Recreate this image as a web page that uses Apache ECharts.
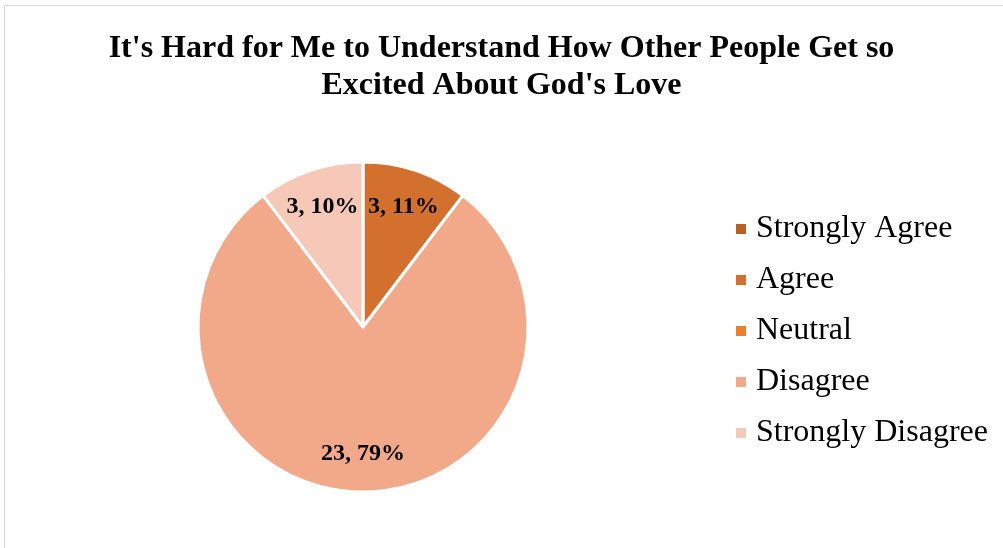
<!DOCTYPE html>
<html>
<head>
<meta charset="utf-8">
<script src="https://cdn.jsdelivr.net/npm/echarts@6/dist/echarts.min.js"></script>
<style>
html,body{margin:0;padding:0;background:#fff;}
#chart{width:1003px;height:548px;}
</style>
</head>
<body>
<div id="chart"></div>
<script>
var titleText = "It's Hard for Me to Understand How Other People Get so\nExcited About God's Love";
var categories = ["Strongly Agree", "Agree", "Neutral", "Disagree", "Strongly Disagree"];
var counts = [0, 3, 0, 23, 3];
var percentLabels = [0, 11, 0, 79, 10];
var colors = ["#B4612A", "#D4702E", "#ED7D31", "#F1A98A", "#F5C8B8"];

var chart = echarts.init(document.getElementById('chart'), null, {renderer: 'canvas'});

var mainData = categories.map(function (c, i) {
  return {name: c, value: counts[i], itemStyle: {color: colors[i]}};
});
var labelData = categories.map(function (c, i) {
  return {name: c, value: counts[i], pct: percentLabels[i]};
});

chart.setOption({
  backgroundColor: '#ffffff',
  animation: false,
  title: {
    text: titleText,
    left: 'center',
    top: 25,
    textStyle: {
      fontFamily: 'Liberation Serif',
      fontWeight: 'bold',
      fontSize: 32,
      lineHeight: 37,
      color: '#000'
    }
  },
  legend: {
    orient: 'vertical',
    left: 734,
    top: 213,
    padding: 0,
    itemWidth: 12,
    itemHeight: 12,
    itemGap: 19,
    icon: 'rect',
    data: categories,
    selectedMode: false,
    textStyle: {
      fontFamily: 'Liberation Serif',
      fontSize: 32,
      lineHeight: 32,
      color: '#000',
      padding: [0, 0, 0, 4]
    }
  },
  graphic: [{
    type: 'rect',
    shape: {x: 4.5, y: 5.5, width: 1200, height: 800},
    style: {fill: 'none', stroke: '#D9D9D9', lineWidth: 1},
    silent: true,
    z: -1
  }],
  series: [{
    type: 'pie',
    center: [363, 327],
    radius: [0, 165],
    startAngle: 90,
    clockwise: true,
    avoidLabelOverlap: false,
    label: {show: false},
    labelLine: {show: false},
    itemStyle: {borderColor: '#ffffff', borderWidth: 3},
    emphasis: {disabled: true},
    data: mainData
  }, {
    type: 'pie',
    center: [363, 327],
    radius: [82, 165],
    startAngle: 90,
    clockwise: true,
    silent: true,
    avoidLabelOverlap: false,
    itemStyle: {color: 'rgba(0,0,0,0)', borderWidth: 0},
    labelLine: {show: false},
    emphasis: {disabled: true},
    label: {
      show: true,
      position: 'inside',
      fontFamily: 'Liberation Serif',
      fontWeight: 'bold',
      fontSize: 24,
      color: '#000',
      formatter: function (p) {
        if (!p.value) return '';
        return p.value + ', ' + p.data.pct + '%';
      }
    },
    data: labelData
  }]
});
</script>
</body>
</html>
